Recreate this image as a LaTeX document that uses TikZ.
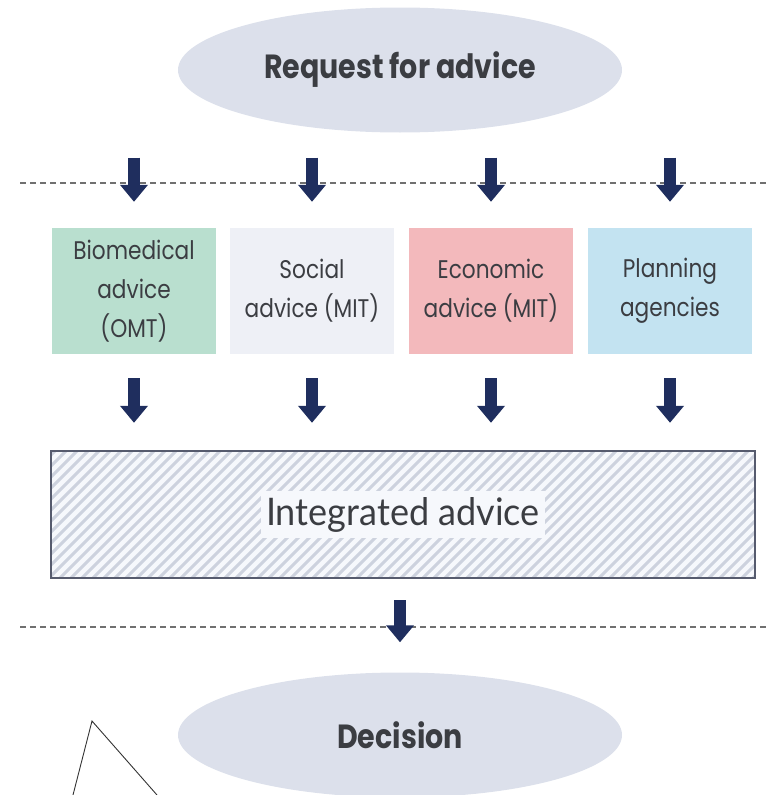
\documentclass[tikz,border=0pt]{standalone}
\usepackage{fontspec}
\setmainfont{Poppins}
\newfontfamily\labelfont[FakeStretch=0.85]{Poppins}
\newfontfamily\headfont[FakeStretch=0.85]{Poppins}
\newfontfamily\intfont[FakeStretch=0.95]{Lato}
\usetikzlibrary{shapes.geometric,arrows.meta}

\definecolor{ink}{HTML}{3B3D42}
\definecolor{bubblefill}{HTML}{DCE0EB}
\definecolor{arrowblue}{HTML}{1F2E5E}
\definecolor{biogreen}{HTML}{B9DFCF}
\definecolor{socgray}{HTML}{EEF0F6}
\definecolor{econpink}{HTML}{F3B9BC}
\definecolor{planblue}{HTML}{C3E3F1}
\definecolor{frame}{HTML}{565B6E}
\definecolor{hatchline}{HTML}{CDD2DE}
\definecolor{hatchbg}{HTML}{F6F8FC}
\definecolor{sepgray}{HTML}{707070}

\tikzset{
  bubble/.style={ellipse, fill=bubblefill, minimum width=444pt, minimum height=125pt,
    inner sep=0pt, text=ink, font=\headfont\bfseries\fontsize{33.5}{38}\selectfont},
  advicebox/.style={minimum width=164pt, minimum height=126pt, inner sep=0pt,
    align=center, text=ink, font=\labelfont\fontsize{25.5}{39}\selectfont},
  flow/.style={-{Triangle[length=17pt,width=27pt]}, line width=12pt, draw=arrowblue},
  sepline/.style={draw=sepgray, line width=1.6pt, dash pattern=on 6pt off 4pt},
  hatch/.style={draw=hatchline, line width=3pt},
}

\begin{document}
\begin{tikzpicture}[x=1pt, y=-1pt]
\useasboundingbox (0,0) rectangle (768,795);

% request and decision
\node[bubble] (req) at (400,70) {Request for advice};
\node[bubble] (dec) at (400,735) {Decision};

% four advice streams
\node[advicebox, fill=biogreen] (b1) at (134,291) {Biomedical\\advice\\(OMT)};
\node[advicebox, fill=socgray]  (b2) at (312,291) {Social\\advice (MIT)};
\node[advicebox, fill=econpink] (b3) at (491,291) {Economic\\advice (MIT)};
\node[advicebox, fill=planblue] (b4) at (670,291) {Planning\\agencies};

% integrated advice, hatched
\node[minimum width=704pt, minimum height=127pt, inner sep=0pt, fill=hatchbg] (int) at (403,514.5) {};
\begin{scope}
  \clip (int.south west) rectangle (int.north east);
  \foreach \x in {-140,-129,...,770} {
    \draw[hatch] (\x,580) -- (\x+130,450);
  }
\end{scope}
\draw[frame, line width=1.6pt] (int.south west) rectangle (int.north east);
\node[fill=hatchbg, inner xsep=5pt, inner ysep=6pt, text=ink,
  font=\intfont\fontsize{38}{44}\selectfont] (intlabel) at (int.center) {Integrated advice};

% separators
\coordinate (s1l) at (20,183);
\coordinate (s1r) at (768,183);
\coordinate (s2l) at (20,627);
\coordinate (s2r) at (768,627);
\draw[sepline] (s1l) -- (s1r);
\draw[sepline] (s2l) -- (s2r);

% flow arrows
\foreach \b in {b1,b2,b3,b4} {
  \draw[flow, shorten <=25pt, shorten >=26pt] (req.south -| \b.north) -- (\b.north);
  \draw[flow, shorten <=24pt, shorten >=28pt] (\b.south) -- (int.north -| \b.south);
}
\draw[flow, shorten <=22pt, shorten >=30pt] (int.south -| dec.north) -- (dec.north);

% stray pen stroke
\coordinate (t1) at (73,795);
\coordinate (t2) at (92,721);
\coordinate (t3) at (157,795);
\draw[black!80, line width=0.9pt] (t1) -- (t2) -- (t3);
\end{tikzpicture}
\end{document}
